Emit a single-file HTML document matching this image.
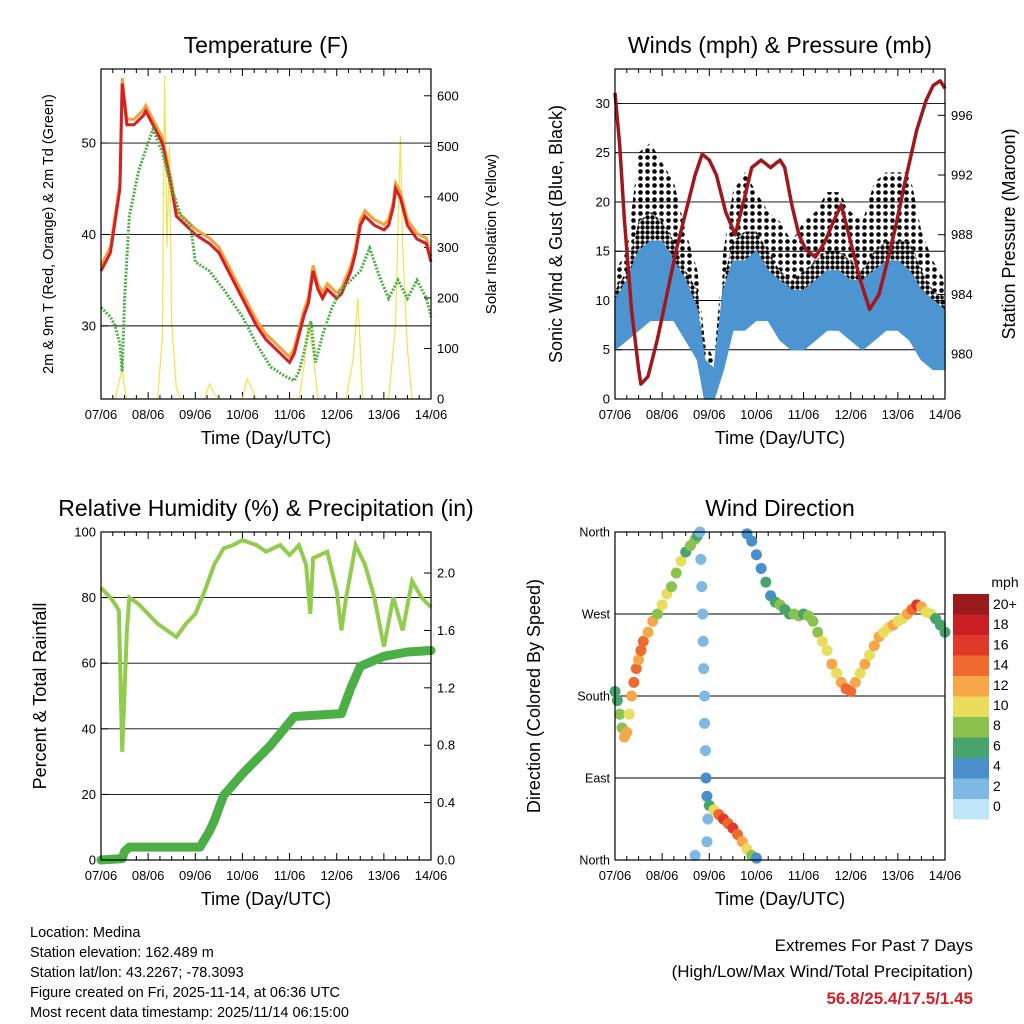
<!DOCTYPE html>
<html><head><meta charset="utf-8">
<style>
body{margin:0;background:#fff;}
svg{display:block;font-family:"Liberation Sans",sans-serif;}
</style></head>
<body>
<svg id="c" width="1024" height="1024" viewBox="0 0 1024 1024" xmlns="http://www.w3.org/2000/svg">
<defs>
<pattern id="dots" width="5" height="5" patternUnits="userSpaceOnUse"><circle cx="2.5" cy="2.5" r="2.2" fill="#000"/></pattern>
<pattern id="dots2" width="7" height="7" patternUnits="userSpaceOnUse"><circle cx="3.5" cy="3.5" r="2.3" fill="#000"/></pattern>
</defs>
<rect width="1024" height="1024" fill="#fff"/>
</svg>
<script>
// ---------- DATA ----------
const dayTicks = ["07/06","08/06","09/06","10/06","11/06","12/06","13/06","14/06"];
const tempTimes = [0,0.2,0.4,0.45,0.55,0.7,0.9,0.95,1.1,1.3,1.5,1.6,1.8,2.0,2.3,2.5,2.7,3.0,3.3,3.5,3.7,3.9,4.0,4.1,4.2,4.3,4.4,4.5,4.6,4.7,4.8,5.0,5.1,5.3,5.4,5.5,5.6,5.8,6.0,6.1,6.2,6.25,6.35,6.5,6.7,6.9,7.0];
const tempValues = [36,38,45,56.5,52,52,53,53.5,52,50,45,42,41,40,39,38,36,33,30,28.5,27.5,26.5,26,27,29,31,32.5,36,34,33,34,33,33.5,36,38,41,42,41,40.5,41,43,45,44,41,39.5,39,37];
const dewTimes = [0,0.2,0.3,0.4,0.45,0.5,0.6,0.8,1.0,1.1,1.3,1.5,1.7,1.9,2.0,2.3,2.6,3.0,3.3,3.6,3.9,4.1,4.2,4.3,4.45,4.55,4.7,4.9,5.1,5.3,5.5,5.7,5.9,6.1,6.3,6.5,6.7,6.9,7.0];
const dewValues = [32,31,30,28,25,33,42,47,50,51.5,49,45,42,41,37,36,34,31,28,25.5,24.5,24,25,27,30.5,26,29,32,34,35,36,38.5,35.5,33,35,33,35,33,31];
const solarTimes = [0,0.3,0.45,0.5,0.55,0.9,1.2,1.3,1.35,1.4,1.45,1.5,1.6,1.7,2.2,2.3,2.4,2.5,3.0,3.1,3.2,3.3,4.2,4.3,4.4,4.5,4.6,5.2,5.35,5.45,5.55,6.1,6.25,6.35,6.4,6.5,6.6,7.0];
const solarValues = [0,0,60,20,0,0,0,120,640,300,500,150,20,0,0,30,10,0,0,40,20,0,0,60,150,90,0,0,80,200,0,0,150,520,300,100,0,0];

const windTimes = [0,0.25,0.5,0.75,1,1.25,1.5,1.75,1.9,2.1,2.3,2.5,2.75,3,3.25,3.5,3.75,4,4.25,4.5,4.75,5,5.25,5.5,5.75,6,6.25,6.5,6.75,7];
const windLow  = [5,6,7,8,8,8,6,4,0,0,3,7,7,8,8,6,5,5,6,7,7,6,5,6,7,7,6,4,3,3];
const windHigh = [10,12,15,16,16,14,12,9,4,3,11,14,14,15,13,12,11,11,12,13,13,12,12,13,14,14,13,11,10,9];
const gustLow  = [7,9,12,13,13,12,10,8,1,0,7,10,11,11,10,9,8,8,9,10,10,9,9,10,10,10,10,8,6,6];
const gustMid  = [11,13,18,19,18,16,13,11,4,3,12,16,17,17,15,13,12,13,14,15,15,14,13,15,16,16,16,13,11,10];
const gustHigh = [13,15,25,26,24,22,17,13,6,4,15,21,23,21,19,18,16,18,19,21,21,19,18,22,23,23,23,17,14,12];
const presTimes = [0,0.1,0.2,0.35,0.5,0.55,0.7,0.9,1.1,1.3,1.5,1.7,1.85,2.0,2.15,2.35,2.55,2.75,2.9,3.1,3.3,3.5,3.6,3.75,3.9,4.05,4.25,4.45,4.65,4.8,5.0,5.2,5.4,5.6,5.8,5.95,6.15,6.4,6.6,6.75,6.9,7.0];
const presValues = [997.5,994,989,983,979,978,978.5,981,984,987,989.5,992,993.4,993,992,989.5,988,990.5,992.5,993,992.5,993,992.5,990,988,987,986.5,987.5,989,990,987.5,985,983,984,986.5,988.5,991.5,995,997,998,998.3,997.8];

const rhTimes = [0,0.2,0.3,0.38,0.45,0.55,0.6,0.8,1.0,1.2,1.4,1.6,1.8,2.0,2.2,2.4,2.6,2.8,3.0,3.3,3.5,3.8,4.0,4.2,4.35,4.44,4.5,4.8,5.0,5.1,5.2,5.4,5.6,5.8,6.0,6.2,6.4,6.6,6.8,7.0];
const rhValues = [83,80,78,76,33,70,80,78,75,72,70,68,72,75,82,90,95,96,97.5,96,94,96,93,96,90,75,92,94,82,70,80,96,90,80,65,80,70,85,80,77];
const precipTimes = [0,0.45,0.5,0.6,2.1,2.3,2.4,2.6,3.0,3.6,4.1,5.1,5.3,5.5,6.0,6.5,7.0];
const precipValues = [0,0.01,0.06,0.09,0.09,0.2,0.27,0.45,0.6,0.8,1.0,1.02,1.2,1.35,1.42,1.45,1.46];

const dirTimes = [0,0.05,0.1,0.15,0.2,0.25,0.3,0.35,0.4,0.45,0.5,0.55,0.6,0.7,0.8,0.9,1.0,1.1,1.2,1.3,1.4,1.5,1.6,1.7,1.75,1.8,1.82,1.84,1.86,1.87,1.88,1.9,1.9,1.92,1.93,1.95,1.97,1.95,1.7,2.0,2.1,2.2,2.3,2.4,2.5,2.6,2.7,2.8,2.9,3.0,2.8,2.9,3.0,3.1,3.2,3.3,3.4,3.5,3.6,3.7,3.8,3.9,4.0,4.1,4.2,4.3,4.4,4.5,4.6,4.7,4.8,4.9,5.0,5.1,5.2,5.3,5.4,5.5,5.6,5.7,5.8,5.9,6.0,6.1,6.2,6.3,6.4,6.5,6.6,6.7,6.8,6.9,7.0];
const dirValues = [185,175,160,145,135,140,160,180,195,210,220,230,240,250,262,270,280,292,300,315,328,338,345,352,356,360,330,300,270,240,210,180,150,120,90,70,45,20,5,60,55,50,45,40,35,28,20,12,5,2,358,350,335,320,305,290,283,280,275,270,270,268,270,268,262,250,240,230,215,205,195,188,185,195,205,215,225,235,245,250,255,258,262,265,270,275,280,278,272,270,265,258,250];
const dirSpeeds = [5,6,7,8,12,12,10,12,13,14,12,13,14,12,11,8,9,10,7,8,9,6,8,7,5,1,1,2,1,1,1,2,1,2,3,3,1,1,2,6,10,14,15,13,16,14,12,10,8,4,3,4,4,3,5,4,6,7,6,6,8,7,6,7,8,8,9,10,12,10,12,14,13,11,10,11,10,11,12,9,10,11,10,9,12,13,15,12,10,9,6,5,6];
const speedLabels = ["20+","18","16","14","12","10","8","6","4","2","0"];
const speedColors = ["#9b1a1d","#c81e24","#e0382b","#ef6a2e","#f7a64a","#eadc5c","#8bc24f","#48a46c","#4a8fcb","#7fb8e4","#bfe5f8"];

// ---------- DRAW ----------
const svg = document.getElementById('c');
const NS = 'http://www.w3.org/2000/svg';
function el(tag, attrs, parent){const e=document.createElementNS(NS,tag);for(const k in attrs)e.setAttribute(k,attrs[k]);(parent||svg).appendChild(e);return e;}
function txt(s, attrs, parent){const e=el('text',attrs,parent);e.textContent=s;return e;}
function lin(d0,d1,p0,p1){return v=>p0+(v-d0)/(d1-d0)*(p1-p0);}
function pathOf(ts,vs,X,Y){return ts.map((t,i)=>(i?'L':'M')+X(t).toFixed(1)+','+Y(vs[i]).toFixed(1)).join('');}
function bandOf(ts,lo,hi,X,Y){let d=ts.map((t,i)=>(i?'L':'M')+X(t).toFixed(1)+','+Y(hi[i]).toFixed(1)).join('');for(let i=ts.length-1;i>=0;i--)d+='L'+X(ts[i]).toFixed(1)+','+Y(lo[i]).toFixed(1);return d+'Z';}

function panel(name,x0,y0,w,h,title,titleX){
  const g=el('g',{});
  
  
  const t=txt(title,{x:titleX,y:y0-16,'text-anchor':'middle','font-size':23},g);
  
  const X=lin(0,7,x0,x0+w);
  const xa=el('g',{},g);
  dayTicks.forEach((lab,i)=>{const x=X(i);
    el('line',{x1:x,x2:x,y1:y0+h,y2:y0+h-7,stroke:'#000','stroke-width':1},xa);
    el('line',{x1:x,x2:x,y1:y0,y2:y0+7,stroke:'#000','stroke-width':1},xa);
    txt(lab,{x:x,y:y0+h+20,'text-anchor':'middle','font-size':13},xa);
    if(i<7)for(let k=1;k<4;k++){const xm=X(i+k/4);el('line',{x1:xm,x2:xm,y1:y0+h,y2:y0+h-4,stroke:'#000'},xa);el('line',{x1:xm,x2:xm,y1:y0,y2:y0+4,stroke:'#000'},xa);}
  });
  txt('Time (Day/UTC)',{x:x0+w/2,y:y0+h+45,'text-anchor':'middle','font-size':18},xa);
  return {g,X};
}
function frame(g,x0,y0,w,h){el('rect',{x:x0,y:y0,width:w,height:h,fill:'none',stroke:'#000','stroke-width':1.2},g);}
function yTicks(g,Y,vals,labels,x0,w,side,grid,fs){vals.forEach((v,i)=>{const y=Y(v);
  if(grid)el('line',{x1:x0,x2:x0+w,y1:y,y2:y,stroke:'#000','stroke-width':0.9},g);
  if(side==='l'){el('line',{x1:x0,x2:x0+7,y1:y,y2:y,stroke:'#000'},g);txt(labels[i],{x:x0-5,y:y+4.5,'text-anchor':'end','font-size':fs||13},g);}
  else{el('line',{x1:x0+w,x2:x0+w-7,y1:y,y2:y,stroke:'#000'},g);txt(labels[i],{x:x0+w+6,y:y+4.5,'text-anchor':'start','font-size':fs||13},g);}
});}
function vtitle(g,s,x,y,fs,name){const t=txt(s,{x:x,y:y,'text-anchor':'middle','font-size':fs,transform:`rotate(-90 ${x} ${y})`},g);}

// Panel 1 Temperature
(function(){
  const x0=101,y0=69,w=330,h=330;
  const {g,X}=panel('temperature-panel',x0,y0,w,h,'Temperature (F)',266);
  const Y=lin(22,58.1,y0+h,y0), YS=lin(0,653,y0+h,y0);
  el('clipPath',{id:'cp1'},g).appendChild(el('rect',{x:x0,y:y0,width:w,height:h},g));
  const s=el('path',{d:pathOf(solarTimes,solarValues,X,YS),fill:'none',stroke:'#f7e04a','stroke-width':1.2,'clip-path':'url(#cp1)'},g);
  
  yTicks(g,Y,[30,40,50],['30','40','50'],x0,w,'l',true);
  yTicks(g,YS,[0,100,200,300,400,500,600],['0','100','200','300','400','500','600'],x0,w,'r',false);
  const o=el('path',{d:pathOf(tempTimes,tempValues.map(v=>v+0.6),X,Y),fill:'none',stroke:'#f5a03a','stroke-width':3},g);
  
  const r=el('path',{d:pathOf(tempTimes,tempValues,X,Y),fill:'none',stroke:'#d41f26','stroke-width':3},g);
  
  const d=el('path',{d:pathOf(dewTimes,dewValues,X,Y),fill:'none',stroke:'#4caf45','stroke-width':3,'stroke-dasharray':'2 1.5'},g);
  
  frame(g,x0,y0,w,h);
  vtitle(g,'2m & 9m T (Red, Orange) & 2m Td (Green)',53,234,14.5,'temperature-y-title');
  vtitle(g,'Solar Insolation (Yellow)',496,234,15,'solar-y-title');
})();

// Panel 2 Winds
(function(){
  const x0=615,y0=69,w=330,h=330;
  const {g,X}=panel('winds-panel',x0,y0,w,h,'Winds (mph) & Pressure (mb)',780);
  const Y=lin(0,33.5,y0+h,y0), YP=lin(977,999.1,y0+h,y0);
  yTicks(g,Y,[0,5,10,15,20,25,30],['0','5','10','15','20','25','30'],x0,w,'l',true);
  yTicks(g,YP,[980,984,988,992,996],['980','984','988','992','996'],x0,w,'r',false);
  const gb2=el('path',{d:bandOf(windTimes,gustMid,gustHigh,X,Y),fill:'url(#dots2)'},g);
  
  const gb=el('path',{d:bandOf(windTimes,gustLow,gustMid,X,Y),fill:'url(#dots)'},g);
  
  const wb=el('path',{d:bandOf(windTimes,windLow,windHigh,X,Y),fill:'#4d95d0',stroke:'#4d95d0','stroke-width':1.5},g);
  
  const p=el('path',{d:pathOf(presTimes,presValues,X,YP),fill:'none',stroke:'#a0171c','stroke-width':3.5,'stroke-linejoin':'round'},g);
  
  frame(g,x0,y0,w,h);
  vtitle(g,'Sonic Wind & Gust (Blue, Black)',562,234,18,'wind-y-title');
  vtitle(g,'Station Pressure (Maroon)',1015,234,18,'pressure-y-title');
})();

// Panel 3 RH
(function(){
  const x0=101,y0=532,w=330,h=328;
  const {g,X}=panel('humidity-panel',x0,y0,w,h,'Relative Humidity (%) & Precipitation (in)',266);
  const Y=lin(0,100,y0+h,y0), YR=lin(0,2.286,y0+h,y0);
  yTicks(g,Y,[0,20,40,60,80,100],['0','20','40','60','80','100'],x0,w,'l',true);
  yTicks(g,YR,[0,0.4,0.8,1.2,1.6,2.0],['0.0','0.4','0.8','1.2','1.6','2.0'],x0,w,'r',false);
  const rh=el('path',{d:pathOf(rhTimes,rhValues,X,Y),fill:'none',stroke:'#92cc4f','stroke-width':4},g);
  
  const pr=el('path',{d:pathOf(precipTimes,precipValues,X,YR),fill:'none',stroke:'#4caf45','stroke-width':9,'stroke-linejoin':'round','stroke-linecap':'round'},g);
  
  frame(g,x0,y0,w,h);
  vtitle(g,'Percent & Total Rainfall',46,696,18,'humidity-y-title');
})();

// Panel 4 Wind direction
(function(){
  const x0=615,y0=532,w=330,h=328;
  const {g,X}=panel('wind-direction-panel',x0,y0,w,h,'Wind Direction',780);
  const Y=lin(0,360,y0+h,y0);
  yTicks(g,Y,[0,90,180,270,360],['North','East','South','West','North'],x0,w,'l',true,12.5);
  function col(s){let i=10-Math.min(10,Math.round(s/2));return speedColors[i];}
  dirTimes.forEach((t,i)=>{
    const c=el('circle',{cx:X(t),cy:Y(dirValues[i]),r:5.5,fill:col(dirSpeeds[i])},g);
    
    
  });
  frame(g,x0,y0,w,h);
  vtitle(g,'Direction (Colored By Speed)',540,696,18,'direction-y-title');
  const lg=el('g',{},svg);
  
  txt('mph',{x:1005,y:587,'text-anchor':'middle','font-size':14},lg);
  speedLabels.forEach((lab,i)=>{
    el('rect',{x:953,y:594+i*20.5,width:36,height:20.5,fill:speedColors[i]},lg);
    txt(lab,{x:993,y:609+i*20.2,'font-size':14},lg);
  });
})();

// Footer
const info=["Location: Medina","Station elevation: 162.489 m","Station lat/lon: 43.2267; -78.3093","Figure created on Fri, 2025-11-14, at 06:36 UTC","Most recent data timestamp: 2025/11/14 06:15:00"];
const fg=el('g',{});
info.forEach((s,i)=>txt(s,{x:30,y:937+i*20,'font-size':14.5},fg));
const eg=el('g',{});
txt('Extremes For Past 7 Days',{x:973,y:951,'text-anchor':'end','font-size':17},eg);
txt('(High/Low/Max Wind/Total Precipitation)',{x:973,y:977,'text-anchor':'end','font-size':17},eg);
txt('56.8/25.4/17.5/1.45',{x:973,y:1004,'text-anchor':'end','font-size':17,'font-weight':'bold',fill:'#d41f26'},eg);
</script>
</body></html>
